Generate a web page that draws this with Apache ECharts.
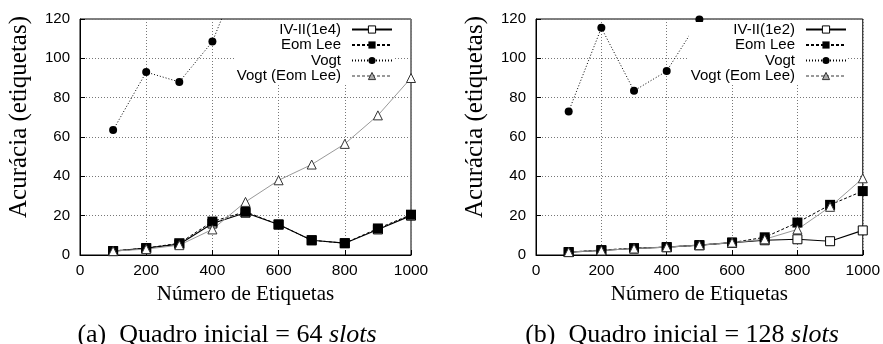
<!DOCTYPE html>
<html>
<head>
<meta charset="utf-8">
<script src="https://cdn.jsdelivr.net/npm/echarts@6/dist/echarts.min.js"></script>
<style>
  html, body { margin: 0; padding: 0; background: #fff; }
  #chart { width: 883px; height: 344px; }
</style>
</head>
<body>
<div id="chart"></div>
<script>
// x values (numero de etiquetas)
var etiquetas = [100, 200, 300, 400, 500, 600, 700, 800, 900, 1000];

// (a) quadro inicial = 64 slots
var ivA = [2, 3.5, 5.5, 16, 21.5, 15.5, 7.5, 6, 13, 20];
var eomA = [2, 3.5, 6, 17, 22, 15.5, 7.5, 6, 13.5, 20.5];
var vogtA = [63.5, 93, 88, 108.5, 150, null, null, null, null, null];
var vogtEomA = [2, 3, 5, 13, 27, 38, 46, 56.5, 71, 90];

// (b) quadro inicial = 128 slots
var ivB = [1.5, 2.3, 3.3, 4, 5, 6.3, 7.5, 8, 7, 12.5];
var eomB = [1.5, 2.5, 3.5, 4, 5, 6.3, 9, 16.5, 25.5, 32.5];
var vogtB = [73, 115.5, 83.5, 93.5, 119.7, null, null, null, null, null];
var vogtEomB = [1.5, 2.3, 3.3, 4, 5, 6.3, 8, 13, 24.5, 39];

var sansFont = '"Liberation Sans", Arial, sans-serif';
var serifFont = '"Liberation Serif", "Times New Roman", serif';

function pairs(ys) {
  return etiquetas.map(function (x, i) { return [x, ys[i]]; });
}

function plain(v) { return String(v); }

function xAxisFor(idx) {
  return {
    type: 'value', gridIndex: idx, min: 0, max: 1000, interval: 200,
    name: 'Número de Etiquetas', nameLocation: 'middle', nameGap: 26,
    nameTextStyle: { fontFamily: serifFont, fontSize: 21, color: '#000' },
    axisLine: { lineStyle: { color: '#000', width: 1 } },
    axisTick: { inside: true, length: 5, lineStyle: { color: '#000' } },
    axisLabel: { fontFamily: sansFont, fontSize: 15.5, color: '#000', margin: 8, formatter: plain },
    splitLine: { show: true, lineStyle: { color: '#777', type: [1, 2], width: 1 } }
  };
}

function yAxisFor(idx) {
  return {
    type: 'value', gridIndex: idx, min: 0, max: 120, interval: 20,
    name: 'Acurácia (etiquetas)', nameLocation: 'middle', nameGap: 48,
    // label sits a bit above the plot centre in the original
    nameTextStyle: { fontFamily: serifFont, fontSize: 25, color: '#000', padding: [0, 0, 0, 40] },
    axisLine: { show: true, lineStyle: { color: '#000', width: 1 } },
    axisTick: { inside: true, length: 5, lineStyle: { color: '#000' } },
    axisLabel: { fontFamily: sansFont, fontSize: 15, color: '#000', margin: 10, formatter: plain },
    splitLine: { show: true, lineStyle: { color: '#777', type: [1, 2], width: 1 } }
  };
}

function seriesFor(idx, iv, eom, vogt, vogtEom, ivName) {
  return [
    {
      name: ivName, type: 'line', xAxisIndex: idx, yAxisIndex: idx,
      data: pairs(iv), symbol: 'rect', symbolSize: 9,
      lineStyle: { color: '#000', width: 1.2, type: 'solid' },
      itemStyle: { color: '#fff', borderColor: '#000', borderWidth: 1 }
    },
    {
      name: 'Eom Lee', type: 'line', xAxisIndex: idx, yAxisIndex: idx,
      data: pairs(eom), symbol: 'rect', symbolSize: 10,
      lineStyle: { color: '#000', width: 1, type: [3, 2] },
      itemStyle: { color: '#000' }
    },
    {
      name: 'Vogt', type: 'line', xAxisIndex: idx, yAxisIndex: idx,
      data: pairs(vogt), symbol: 'circle', symbolSize: 8, connectNulls: false,
      lineStyle: { color: '#000', width: 1, type: [1, 2] },
      itemStyle: { color: '#000' }
    },
    {
      name: 'Vogt (Eom Lee)', type: 'line', xAxisIndex: idx, yAxisIndex: idx,
      data: pairs(vogtEom), symbol: 'triangle', symbolSize: 9,
      lineStyle: { color: '#999', width: 1, type: 'solid' },
      itemStyle: { color: '#fff', borderColor: '#333', borderWidth: 1 }
    }
  ];
}

function legendFor(ivName, right) {
  return {
    orient: 'vertical', align: 'right', right: right, top: 22,
    itemWidth: 40, itemHeight: 9, itemGap: 0.5,
    backgroundColor: '#fff', padding: [0, 0, 0, 2],
    textStyle: { fontFamily: sansFont, fontSize: 15, color: '#000', padding: [0, 6, 0, 0] },
    data: [
      { name: ivName, itemStyle: { color: '#fff', borderColor: '#000', borderWidth: 1 } },
      'Eom Lee', 'Vogt',
      {
        name: 'Vogt (Eom Lee)',
        itemStyle: { color: '#aaa', borderColor: '#333', borderWidth: 1 },
        lineStyle: { type: [3, 2] }
      }
    ]
  };
}

function captionFor(text, centerX) {
  return {
    text: text, left: centerX, top: 317, textAlign: 'center',
    textStyle: {
      fontFamily: serifFont, fontSize: 26, fontWeight: 'normal', color: '#000',
      rich: { i: { fontFamily: serifFont, fontSize: 26, fontStyle: 'italic', color: '#000' } }
    }
  };
}

var chart = echarts.init(document.getElementById('chart'), null, { renderer: 'canvas' });

var option = {
  animation: false,
  backgroundColor: '#fff',
  grid: [
    { left: 80, top: 19, width: 331, height: 236, show: true, borderColor: '#000', borderWidth: 1, backgroundColor: 'transparent' },
    { left: 536, top: 19, width: 330, height: 236, show: true, borderColor: '#000', borderWidth: 1, backgroundColor: 'transparent' }
  ],
  xAxis: [xAxisFor(0), xAxisFor(1)],
  yAxis: [yAxisFor(0), yAxisFor(1)],
  legend: [legendFor('IV-II(1e4)', 490), legendFor('IV-II(1e2)', 36)],
  title: [
    captionFor('(a)  Quadro inicial = 64 {i|slots}', 222),
    captionFor('(b)  Quadro inicial = 128 {i|slots}', 677)
  ],
  series: seriesFor(0, ivA, eomA, vogtA, vogtEomA, 'IV-II(1e4)')
    .concat(seriesFor(1, ivB, eomB, vogtB, vogtEomB, 'IV-II(1e2)'))
};

chart.setOption(option);
</script>
</body>
</html>
